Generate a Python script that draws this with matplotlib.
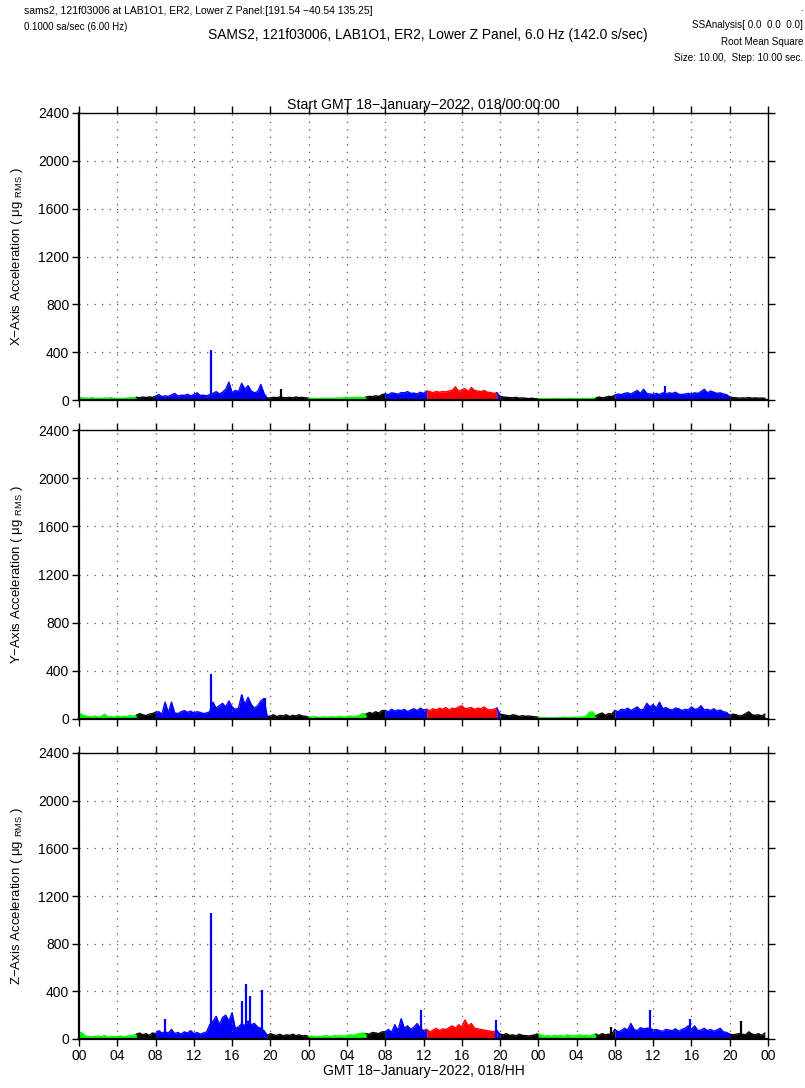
import numpy as np
import matplotlib
matplotlib.use("Agg")
import matplotlib.pyplot as plt

plt.rcParams['font.family'] = ['Liberation Sans', 'DejaVu Sans']
plt.rcParams['mathtext.fontset'] = 'custom'
plt.rcParams['mathtext.rm'] = 'Liberation Sans'

# RMS values, 3 bins per hour (20 min), hours 0..72, in micro-g
x_rms = [
    22, 18, 15, 14, 20, 12, 16, 12, 18, 14, 20, 12, 15, 12, 14, 16, 20, 18, 22, 18, 25, 20, 26, 22,
    30, 45, 28, 35, 30, 42, 55, 32, 40, 38, 48, 35, 45, 60, 38, 40, 35, 45, 55, 70, 50, 65, 90, 150,
    60, 80, 70, 140, 90, 120, 75, 60, 70, 130, 55, 15, 18, 22, 20, 25, 20, 18, 22, 18, 25, 20, 22, 18,
    15, 12, 14, 12, 15, 13, 14, 16, 12, 18, 15, 20, 22, 18, 25, 20, 24, 18, 25, 30, 28, 35, 30, 45,
    50, 45, 60, 55, 48, 62, 60, 70, 55, 58, 50, 65, 55, 75, 70, 60, 72, 65, 70, 68, 75, 80, 110, 72,
    85, 95, 70, 105, 80, 75, 70, 80, 65, 62, 55, 60, 30, 25, 22, 20, 18, 22, 15, 18, 14, 12, 15, 10,
    10, 12, 10, 11, 10, 12, 12, 10, 12, 11, 14, 10, 12, 10, 13, 12, 11, 14, 15, 25, 18, 22, 30, 28,
    40, 50, 45, 55, 60, 50, 65, 80, 55, 90, 55, 50, 48, 55, 45, 60, 50, 60, 55, 65, 48, 45, 50, 55,
    50, 60, 55, 70, 90, 60, 75, 65, 55, 60, 50, 45, 25, 20, 18, 15, 18, 16, 20, 15, 18, 15, 16, 14,
]
y_rms = [
    50, 35, 25, 20, 18, 25, 15, 22, 40, 18, 20, 15, 25, 18, 22, 20, 28, 22, 30, 45, 35, 28, 40, 45,
    55, 60, 40, 140, 50, 140, 50, 45, 60, 70, 55, 65, 50, 60, 55, 45, 50, 60, 140, 90, 110, 130, 100, 150,
    100, 80, 90, 200, 120, 180, 120, 90, 110, 150, 170, 20, 25, 35, 20, 30, 25, 35, 20, 30, 25, 35, 25, 22,
    18, 15, 20, 12, 15, 18, 14, 20, 15, 18, 22, 15, 20, 25, 18, 22, 30, 45, 40, 55, 45, 60, 50, 70,
    70, 60, 80, 65, 75, 70, 80, 60, 75, 85, 70, 90, 75, 80, 70, 85, 75, 90, 80, 95, 75, 90, 85, 100,
    110, 85, 90, 95, 80, 90, 85, 100, 80, 75, 80, 90, 40, 35, 30, 25, 35, 30, 20, 28, 22, 25, 20, 18,
    15, 10, 12, 8, 10, 8, 12, 10, 15, 10, 12, 15, 12, 18, 15, 25, 55, 60, 25, 40, 50, 30, 45, 40,
    70, 60, 80, 75, 90, 70, 85, 100, 75, 80, 130, 100, 120, 90, 140, 85, 95, 80, 75, 90, 85, 70, 80, 75,
    100, 80, 85, 110, 75, 80, 70, 85, 65, 75, 60, 55, 30, 40, 35, 25, 30, 45, 60, 35, 30, 35, 25, 40,
]
z_rms = [
    55, 50, 25, 20, 18, 22, 25, 18, 30, 15, 22, 18, 20, 25, 18, 22, 28, 30, 40, 50, 35, 45, 30, 50,
    45, 70, 50, 60, 50, 80, 45, 55, 40, 60, 50, 70, 45, 55, 40, 50, 60, 120, 150, 190, 120, 180, 200, 150,
    220, 90, 100, 130, 110, 150, 120, 130, 100, 90, 70, 30, 45, 35, 30, 40, 25, 35, 30, 40, 28, 35, 25, 30,
    20, 25, 18, 22, 20, 28, 25, 20, 30, 25, 28, 22, 30, 35, 30, 40, 45, 50, 45, 40, 55, 50, 45, 60,
    60, 80, 55, 120, 70, 170, 90, 110, 80, 100, 130, 90, 70, 80, 60, 75, 90, 70, 85, 80, 95, 110, 90, 120,
    100, 160, 110, 130, 90, 85, 80, 75, 70, 65, 60, 70, 40, 35, 45, 30, 35, 25, 40, 30, 28, 25, 30, 35,
    45, 30, 25, 28, 22, 30, 25, 30, 22, 35, 28, 25, 30, 35, 28, 30, 25, 35, 40, 30, 45, 35, 40, 40,
    80, 60, 70, 90, 75, 130, 80, 70, 95, 85, 90, 90, 75, 80, 70, 65, 80, 75, 70, 85, 65, 80, 90, 110,
    80, 110, 70, 75, 90, 70, 80, 65, 75, 90, 60, 55, 40, 35, 40, 45, 40, 35, 60, 40, 35, 45, 30, 50,
]

# narrow peaks (hour, micro-g)
x_spikes = [(13.76, 415), (21.1, 90), (61.2, 120)]
y_spikes = [(13.76, 370), (17.0, 200), (19.4, 175)]
z_spikes = [(9.0, 165), (13.76, 1060), (17.0, 320), (17.5, 460), (17.9, 360), (19.1, 415),
            (35.7, 240), (43.6, 160), (55.6, 100), (59.7, 240), (63.9, 170), (69.2, 150)]

# colour segments (start hour, end hour, colour)
seg_start = [0, 6, 8, 19.6, 24, 30, 32, 36.2, 43.5, 44, 48, 54, 56, 68]
seg_end = [6, 8, 19.6, 24, 30, 32, 36.2, 43.5, 44, 48, 54, 56, 68, 72]
seg_color = ['#00ff00', 'k', '#0000ff', 'k', '#00ff00', 'k', '#0000ff', '#ff0000',
             '#0000ff', 'k', '#00ff00', 'k', '#0000ff', 'k']

xtick_hours = list(range(0, 73, 4))
xtick_labels = ['00', '04', '08', '12', '16', '20', '00', '04', '08', '12', '16', '20',
                '00', '04', '08', '12', '16', '20', '00']
ytick_vals = [0, 400, 800, 1200, 1600, 2000, 2400]

axis_names = ['X', 'Y', 'Z']
all_rms = [x_rms, y_rms, z_rms]
all_spikes = [x_spikes, y_spikes, z_spikes]


def color_at(h):
    for s, e, c in zip(seg_start, seg_end, seg_color):
        if s <= h < e:
            return c
    return seg_color[-1]


fig = plt.figure(figsize=(8.05, 10.88), dpi=100)
W, H = 805, 1088
# pixel boxes of the three panels: (top, bottom)
boxes = [(113, 400), (430, 719), (753, 1039)]
left_px, right_px = 79, 768

for i, (top, bot) in enumerate(boxes):
    ax = fig.add_axes([left_px / W, 1 - bot / H, (right_px - left_px) / W, (bot - top) / H])
    vals = np.array(all_rms[i], dtype=float)
    t = np.arange(len(vals)) / 3.0
    for s, e, c in zip(seg_start, seg_end, seg_color):
        idx = np.where((t >= s - 1e-9) & (t < e - 1e-9))[0]
        if len(idx) == 0:
            continue
        # join to the first point of the next segment
        if idx[-1] + 1 < len(t):
            idx = np.append(idx, idx[-1] + 1)
        ax.fill_between(t[idx], 0, vals[idx], color=c, lw=0)
        ax.plot(t[idx], vals[idx], color=c, lw=1.0)
    for h, v in all_spikes[i]:
        ax.vlines(h, 0, v, color=color_at(h), lw=1.6)

    ax.set_xlim(0, 72)
    ax.set_ylim(0, 2400)
    ax.set_xticks(xtick_hours)
    ax.set_yticks(ytick_vals)
    ax.set_yticklabels([str(v) for v in ytick_vals], fontsize=10)
    if i == 2:
        ax.set_xticklabels(xtick_labels, fontsize=10)
        ax.set_xlabel('GMT 18\u2212January\u22122022, 018/HH', fontsize=10, labelpad=1)
    else:
        ax.set_xticklabels([])
    ax.tick_params(direction='out', top=True, right=True, length=5, width=1, pad=2)
    ax.grid(True, color='0.35', linestyle=(0, (1, 5)), lw=0.9)
    for sp in ax.spines.values():
        sp.set_linewidth(1.0)
    ax.spines['left'].set_linewidth(1.6)
    ax.spines['bottom'].set_linewidth(1.6)
    fig.text(17 / W, 1 - (top + bot) / 2 / H,
             axis_names[i] + '\u2212Axis Acceleration ( \u03bcg $_{\\mathrm{RMS}}$ )',
             rotation=90, ha='center', va='center', fontsize=9.5)
    if i == 0:
        ax.set_title('Start GMT 18\u2212January\u22122022, 018/00:00:00', fontsize=10.2, pad=3)

fig.text(24 / W, 1 - 11 / H,
         'sams2, 121f03006 at LAB1O1, ER2, Lower Z Panel:[191.54 \u221240.54 135.25]',
         fontsize=7.5, ha='left', va='center')
fig.text(24 / W, 1 - 27 / H, '0.1000 sa/sec (6.00 Hz)', fontsize=7.0, ha='left', va='center')
fig.text(428 / W, 1 - 35 / H,
         'SAMS2, 121f03006, LAB1O1, ER2, Lower Z Panel, 6.0 Hz (142.0 s/sec)',
         fontsize=9.9, ha='center', va='center')
fig.text(803 / W, 1 - 8 / H, '.', fontsize=7, ha='right', va='center')
fig.text(803 / W, 1 - 25 / H, 'SSAnalysis[ 0.0  0.0  0.0]', fontsize=7.1, ha='right', va='center')
fig.text(803 / W, 1 - 42 / H, 'Root Mean Square', fontsize=7.1, ha='right', va='center')
fig.text(803 / W, 1 - 58 / H, 'Size: 10.00,  Step: 10.00 sec.', fontsize=7.1, ha='right', va='center')

fig.savefig('out.png', dpi=100)
